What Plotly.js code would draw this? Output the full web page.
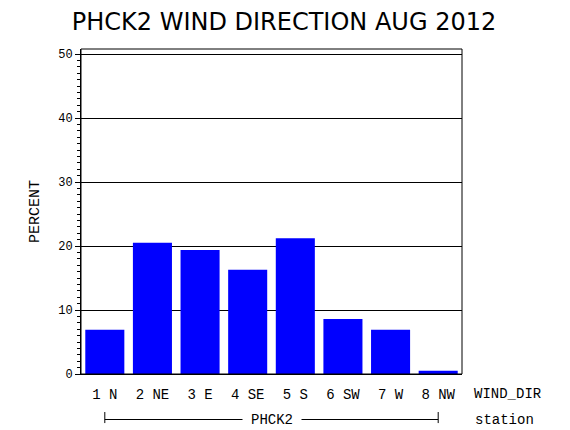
<!DOCTYPE html>
<html>
<head>
<meta charset="utf-8">
<script src="https://cdn.plot.ly/plotly-3.0.1.min.js"></script>
<style>html,body{margin:0;padding:0;background:#fff;}#chart{width:570px;height:430px;}</style>
</head>
<body>
<div id="chart"></div>
<script>
var categories = ["1 N", "2 NE", "3 E", "4 SE", "5 S", "6 SW", "7 W", "8 NW"];
var percentValues = [6.9, 20.5, 19.4, 16.3, 21.2, 8.6, 6.9, 0.5];
var yTickValues = [0, 10, 20, 30, 40, 50];
var titleText = "PHCK2 WIND DIRECTION AUG 2012";
var stationName = "PHCK2";

var mono = "Liberation Mono, DejaVu Sans Mono, monospace";

var trace = {
  type: "bar",
  x: categories,
  y: percentValues,
  marker: {color: "#0000ff", line: {width: 0}},
  hoverinfo: "none"
};

var layout = {
  width: 570,
  height: 430,
  margin: {l: 81, r: 108, t: 49, b: 56, pad: 0},
  paper_bgcolor: "#ffffff",
  plot_bgcolor: "#ffffff",
  showlegend: false,
  bargap: 0.18,
  title: {
    text: titleText,
    font: {family: "DejaVu Sans, sans-serif", size: 24, color: "#000"},
    x: 284 / 570, xref: "container", xanchor: "center",
    y: 1 - 22 / 430, yref: "container", yanchor: "middle"
  },
  xaxis: {
    type: "category",
    range: [-0.5, 7.5],
    showline: true, linecolor: "#000", linewidth: 1, mirror: false,
    ticks: "", showgrid: false, zeroline: false,
    tickfont: {family: mono, size: 14, color: "#000"},
    ticklabelstandoff: 7,
    fixedrange: true
  },
  yaxis: {
    range: [0, 50.8],
    tickvals: yTickValues,
    ticktext: yTickValues.map(String),
    showline: true, linecolor: "#000", linewidth: 1, mirror: false,
    ticks: "outside", ticklen: 5, tickcolor: "#000", tickwidth: 1,
    minor: {dtick: 1, ticks: "outside", ticklen: 3, tickcolor: "#000", tickwidth: 1, showgrid: false},
    showgrid: true, gridcolor: "#000", gridwidth: 1,
    zeroline: false,
    tickfont: {family: mono, size: 12, color: "#000"},
    title: {text: "PERCENT", font: {family: mono, size: 15, color: "#000"}, standoff: 14},
    fixedrange: true
  },
  shapes: [
    {type: "rect", xref: "paper", yref: "paper", x0: 0, x1: 1, y0: 0, y1: 1, line: {color: "#000", width: 1}, fillcolor: "rgba(0,0,0,0)"},
    {type: "line", xref: "x", yref: "paper", x0: 0, x1: categories.length - 1, y0: -0.14, y1: -0.14, line: {color: "#000", width: 1}},
    {type: "line", xref: "x", yref: "paper", x0: 0, x1: 0, y0: -0.117, y1: -0.151, line: {color: "#000", width: 1}},
    {type: "line", xref: "x", yref: "paper", x0: categories.length - 1, x1: categories.length - 1, y0: -0.117, y1: -0.151, line: {color: "#000", width: 1}}
  ],
  annotations: [
    {text: "WIND_DIR", xref: "paper", yref: "paper", x: 1.1216, y: -0.063, showarrow: false, xanchor: "center", yanchor: "middle", font: {family: mono, size: 14, color: "#000"}},
    {text: "station", xref: "paper", yref: "paper", x: 1.111, y: -0.14, showarrow: false, xanchor: "center", yanchor: "middle", font: {family: mono, size: 14, color: "#000"}},
    {text: stationName, xref: "x", yref: "paper", x: (categories.length - 1) / 2, y: -0.14, showarrow: false, xanchor: "center", yanchor: "middle", bgcolor: "#ffffff", borderpad: 8, font: {family: mono, size: 14, color: "#000"}}
  ]
};

Plotly.newPlot("chart", [trace], layout, {staticPlot: true, displayModeBar: false});
</script>
</body>
</html>
